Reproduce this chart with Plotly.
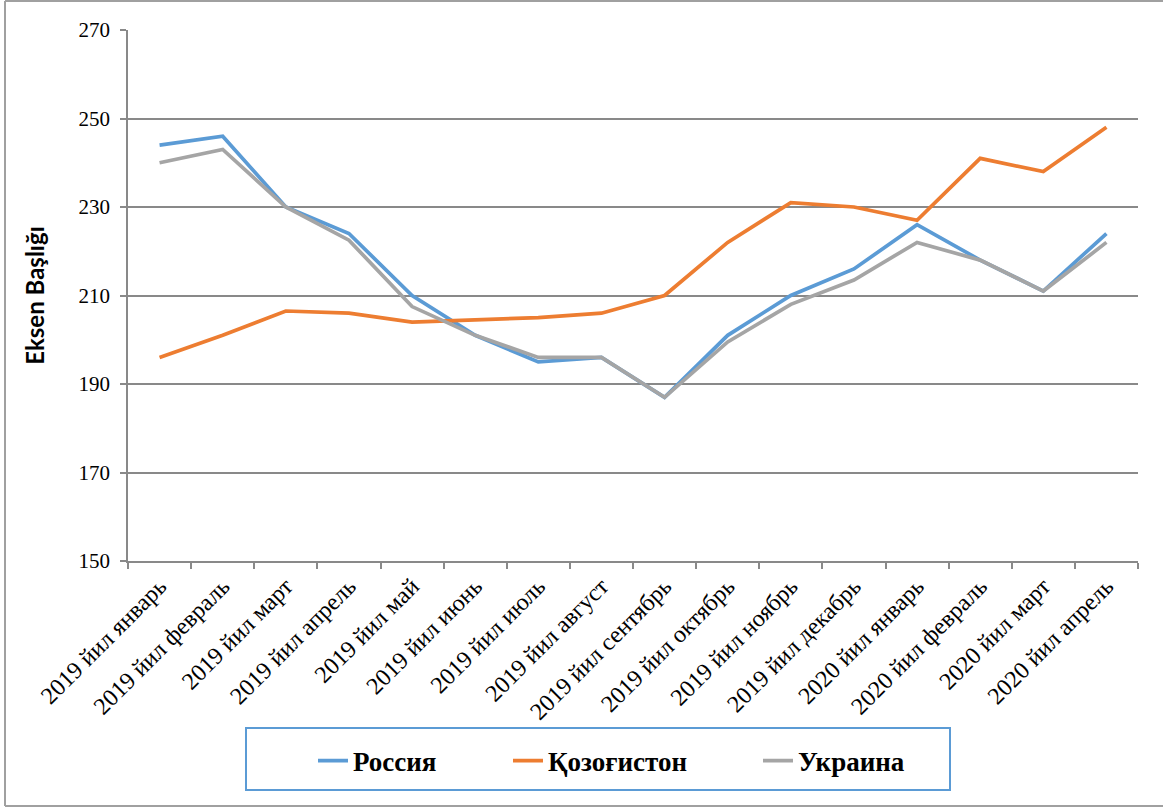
import plotly.graph_objects as go

categories = ["2019 йил январь", "2019 йил февраль", "2019 йил март", "2019 йил апрель",
              "2019 йил май", "2019 йил июнь", "2019 йил июль", "2019 йил август",
              "2019 йил сентябрь", "2019 йил октябрь", "2019 йил ноябрь", "2019 йил декабрь",
              "2020 йил январь", "2020 йил февраль", "2020 йил март", "2020 йил апрель"]
russia = [244, 246, 230, 224, 210, 201, 195, 196, 187, 201, 210, 216, 226, 218, 211, 224]
kazakhstan = [196, 201, 206.5, 206, 204, 204.5, 205, 206, 210, 222, 231, 230, 227, 241, 238, 248]
ukraine = [240, 243, 230, 222.5, 207.5, 201, 196, 196, 187, 199.5, 208, 213.5, 222, 218, 211, 222]
y_ticks = [150, 170, 190, 210, 230, 250, 270]

W, H = 1163, 807
L, R, T, B = 128, 25, 30, 246
pw, ph = W - L - R, H - T - B

def px(x):
    return (x - L) / pw

def py(y):
    return (H - B - y) / ph

legend_font = dict(family="Liberation Serif", size=27, color="black", weight="bold")
legend_text_x = [355, 550, 800]

fig = go.Figure()
series = [("Россия", russia, "#5B9BD5"), ("Қозоғистон", kazakhstan, "#ED7D31"), ("Украина", ukraine, "#A5A5A5")]
legend_ids = ["legend", "legend2", "legend3"]
for (name, vals, color), lid in zip(series, legend_ids):
    fig.add_trace(go.Scatter(x=categories, y=vals, name=name, mode="lines", legend=lid,
                             line=dict(color=color, width=3.7)))

legend_common = dict(orientation="h", yanchor="middle", y=py(761), xanchor="left",
                     font=legend_font, borderwidth=0, bgcolor="rgba(0,0,0,0)")
fig.update_layout(
    width=W, height=H,
    margin=dict(l=L, r=R, t=T, b=B),
    paper_bgcolor="white", plot_bgcolor="white",
    showlegend=True,
    legend=dict(x=px(legend_text_x[0] - 42), **legend_common),
    legend2=dict(x=px(legend_text_x[1] - 42), **legend_common),
    legend3=dict(x=px(legend_text_x[2] - 42), **legend_common),
    shapes=[
        dict(type="rect", xref="paper", yref="paper", x0=px(246), x1=px(950), y0=py(790), y1=py(728),
             line=dict(color="#5B9BD5", width=2), layer="below"),
        dict(type="line", xref="paper", yref="paper", x0=px(5), x1=px(5), y0=py(806), y1=py(1),
             line=dict(color="#A0A0A0", width=2)),
        dict(type="line", xref="paper", yref="paper", x0=px(5), x1=px(1163), y0=py(1), y1=py(1),
             line=dict(color="#A0A0A0", width=2)),
        dict(type="line", xref="paper", yref="paper", x0=px(5), x1=px(1163), y0=py(806), y1=py(806),
             line=dict(color="#A0A0A0", width=2)),
    ],
)

fig.update_xaxes(
    type="category", tickangle=-45, tickson="boundaries", ticks="outside", ticklen=6,
    tickcolor="#898989", tickwidth=1.5,
    showline=True, linecolor="#898989", linewidth=1.5, showgrid=False,
    tickfont=dict(family="Liberation Serif", size=24, color="black"),
    range=[-0.5, 15.5],
)
fig.update_yaxes(
    range=[150, 270], tickvals=y_ticks, ticks="outside", ticklen=6,
    tickcolor="#898989", tickwidth=1.5,
    showline=True, linecolor="#898989", linewidth=1.5,
    showgrid=True, gridcolor="#898989", gridwidth=1.5, zeroline=False,
    tickfont=dict(family="Liberation Serif", size=21, color="black"),
    ticklabelstandoff=6,
    title=dict(text="Eksen Başlığı", standoff=27,
               font=dict(family="Lato", size=24, color="black", weight="bold")),
)

fig.write_html("out.html", config={"displayModeBar": False},
               post_script="document.body.style.margin='0px';")
